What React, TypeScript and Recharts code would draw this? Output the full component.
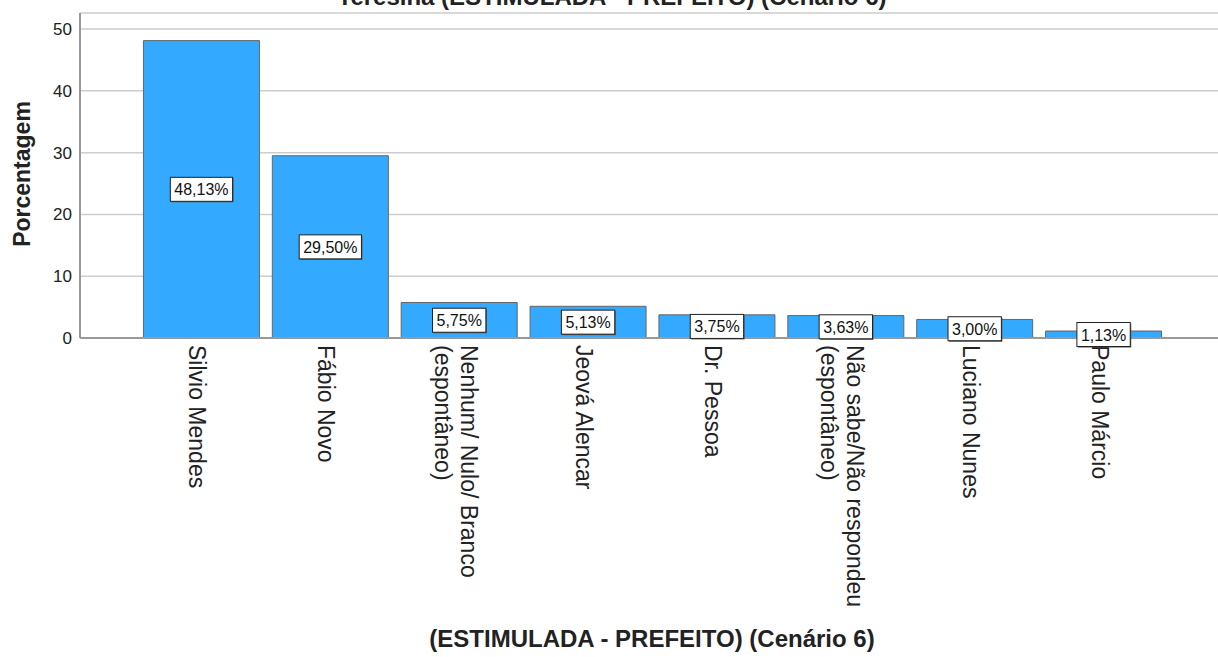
import React from 'react';
import { BarChart, Bar, XAxis, YAxis, CartesianGrid, LabelList } from 'recharts';

const categories: string[] = [
  'Silvio Mendes',
  'Fábio Novo',
  'Nenhum/ Nulo/ Branco\n(espontâneo)',
  'Jeová Alencar',
  'Dr. Pessoa',
  'Não sabe/Não respondeu\n(espontâneo)',
  'Luciano Nunes',
  'Paulo Márcio',
];
const percentages: number[] = [48.13, 29.5, 5.75, 5.13, 3.75, 3.63, 3.0, 1.13];
const yTicks: number[] = [0, 10, 20, 30, 40, 50];

const topTitle = 'Teresina (ESTIMULADA - PREFEITO) (Cenário 6)';
const xTitle = '(ESTIMULADA - PREFEITO) (Cenário 6)';
const yTitle = 'Porcentagem';

const data = categories.map((c, i) => ({ name: c, value: percentages[i] }));

const FONT = '"Liberation Sans", Arial, Helvetica, sans-serif';

const fmt = (v: number) => v.toFixed(2).replace('.', ',') + '%';

const charW = (ch: string) => {
  if (ch === ',') return 0.278;
  if (ch === '%') return 0.889;
  return 0.556;
};

const BoxLabel = (props: any) => {
  const { x, y, width, height, value } = props;
  const cx = Number(x) + Number(width) / 2;
  const cy = Number(y) + Number(height) / 2;
  const txt = fmt(Number(value));
  const fs = 16;
  const tw = txt.split('').reduce((s, c) => s + charW(c), 0) * fs;
  const bw = tw + 8;
  const bh = 24;
  return (
    <g>
      <rect x={cx - bw / 2 + 1} y={cy - bh / 2 + 1} width={bw} height={bh} fill="#555" />
      <rect x={cx - bw / 2} y={cy - bh / 2} width={bw} height={bh} fill="#fff" stroke="#222" strokeWidth={1} />
      <text x={cx} y={cy + 6} textAnchor="middle" fontSize={fs} fontFamily={FONT} fill="#111">
        {txt}
      </text>
    </g>
  );
};

const XTick = (props: any) => {
  const { x, y, payload } = props;
  const lines: string[] = String(payload.value).split('\n');
  const offsets = lines.length === 1 ? [12] : [-1.5, 24.5];
  return (
    <g transform={`translate(${x},${Number(y) + 7}) rotate(90)`}>
      {lines.map((ln, i) => (
        <text key={i} x={0} y={offsets[i]} textAnchor="start" fontSize={23} fontFamily={FONT} fill="#222">
          {ln}
        </text>
      ))}
    </g>
  );
};

export default function App() {
  return (
    <div style={{ position: 'absolute', left: 0, top: 0, width: 1218, height: 657, background: '#fff' }}>
      <BarChart
        width={1218}
        height={657}
        data={data}
        margin={{ top: 13, right: 0, left: 0, bottom: 0 }}
        barCategoryGap="5%"
      >
        <CartesianGrid horizontal vertical={false} stroke="#cdcdcd" strokeWidth={1.5} />
        <XAxis
          dataKey="name"
          interval={0}
          height={319}
          tickLine={false}
          tickSize={0}
          tickMargin={0}
          axisLine={{ stroke: '#999', strokeWidth: 2 }}
          padding={{ left: 57, right: 50 }}
          tick={<XTick />}
        />
        <YAxis
          width={80}
          domain={[0, 52.6]}
          ticks={yTicks}
          allowDataOverflow
          tickLine={false}
          tickSize={0}
          tickMargin={8}
          axisLine={{ stroke: '#999', strokeWidth: 2 }}
          tick={{ fontSize: 17, fontFamily: FONT, fill: '#222' }}
        />
        <Bar dataKey="value" fill="#33aaff" stroke="#666" strokeWidth={1} isAnimationActive={false}>
          <LabelList dataKey="value" content={<BoxLabel />} />
        </Bar>
      </BarChart>
      <svg
        width={1218}
        height={657}
        style={{ position: 'absolute', left: 0, top: 0, pointerEvents: 'none' }}
      >
        <text x={612} y={5} textAnchor="middle" fontSize={24} fontWeight="bold" fontFamily={FONT} fill="#222">
          {topTitle}
        </text>
        <text x={652} y={647} textAnchor="middle" fontSize={24} fontWeight="bold" fontFamily={FONT} fill="#222">
          {xTitle}
        </text>
        <text
          transform="translate(30,174) rotate(-90)"
          textAnchor="middle"
          fontSize={23}
          fontWeight="bold"
          fontFamily={FONT}
          fill="#222"
        >
          {yTitle}
        </text>
      </svg>
    </div>
  );
}
